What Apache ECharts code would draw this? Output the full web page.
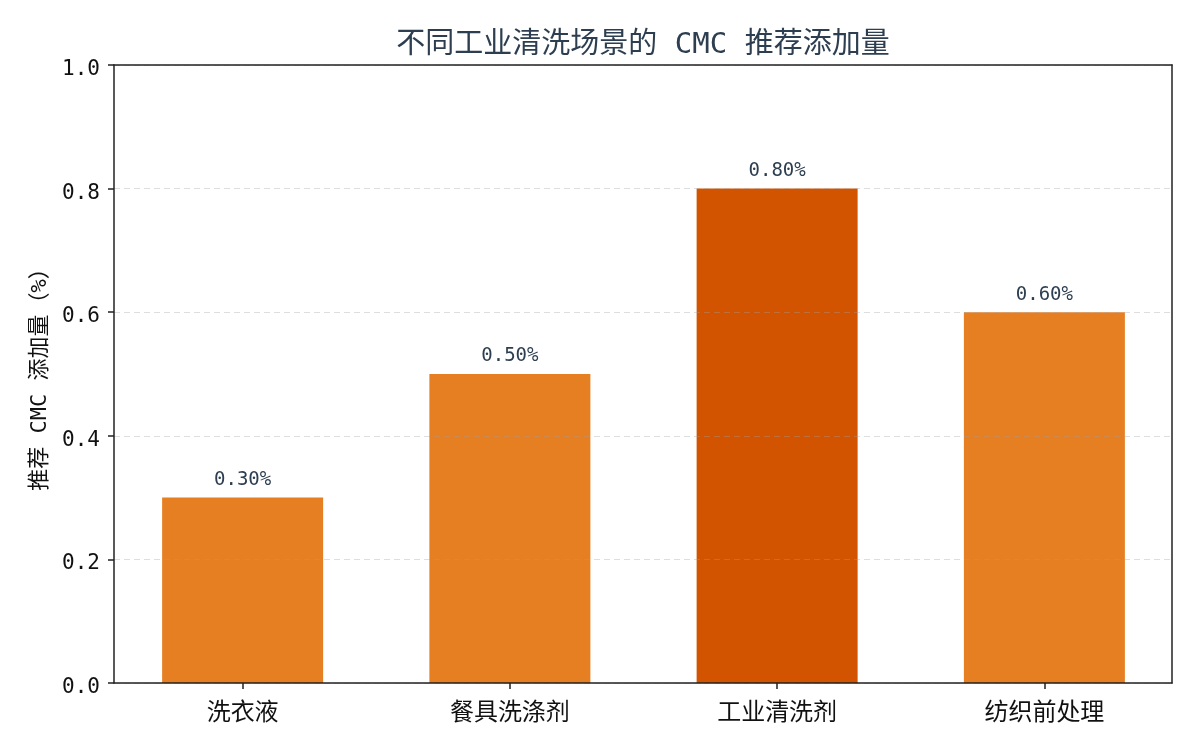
<!DOCTYPE html>
<html>
<head>
<meta charset="utf-8">
<script src="https://cdn.jsdelivr.net/npm/echarts@6/dist/echarts.min.js"></script>
<style>
  html, body { margin: 0; padding: 0; background: #fff; }
  #chart { width: 1200px; height: 750px; }
</style>
</head>
<body>
<div id="chart"></div>
<script>
// 场景与推荐添加量 (%)
var scenes = ['洗衣液', '餐具洗涤剂', '工业清洗剂', '纺织前处理'];
var dosage = [0.30, 0.50, 0.80, 0.60];
var yTicks = [0, 0.2, 0.4, 0.6, 0.8, 1.0];

// 拉丁字符用等宽字体，中文回落到 Noto CJK
var font = "'DejaVu Sans Mono', 'Noto Sans CJK SC', sans-serif";
var maxVal = Math.max.apply(null, dosage);

var chart = echarts.init(document.getElementById('chart'));

// 外框用的轴（只画轴线）
function frameAxis(pos, idx) {
  return {
    type: 'value', gridIndex: idx, position: pos, min: 0, max: 1, z: 5,
    axisLine: { show: true, onZero: false, lineStyle: { color: '#222', width: 1.5 } },
    axisTick: { show: false }, axisLabel: { show: false }, splitLine: { show: false }
  };
}

var option = {
  backgroundColor: '#fff',
  textStyle: { fontFamily: font },
  title: {
    text: '不同工业清洗场景的 CMC 推荐添加量',
    left: 638,
    textAlign: 'center',
    top: 26,
    textStyle: { fontSize: 29, fontWeight: 'normal', color: '#2c3e50', fontFamily: font }
  },
  grid: [
    { left: 114, right: 28, top: 65, bottom: 67 },
    // 柱子所在网格：按 matplotlib 的边距稍微外扩
    { left: 109, right: 22, top: 65, bottom: 67 }
  ],
  xAxis: [
    frameAxis('bottom', 0),
    {
      type: 'category', gridIndex: 1, data: scenes, z: 5,
      axisLine: { show: false },
      axisTick: { show: true, alignWithLabel: true, length: 6, lineStyle: { color: '#222', width: 1.5 } },
      axisLabel: { fontSize: 24, color: '#111', margin: 19, fontFamily: font }
    },
    frameAxis('top', 0)
  ],
  yAxis: [
    {
      type: 'value', gridIndex: 0, min: 0, max: 1, interval: 0.2, z: 3,
      name: '推荐 CMC 添加量（%）',
      nameLocation: 'middle',
      nameGap: 62,
      nameTextStyle: { fontSize: 22, color: '#111', fontFamily: font },
      axisLine: { show: true, onZero: false, lineStyle: { color: '#222', width: 1.5 } },
      axisTick: { show: true, length: 6, lineStyle: { color: '#222', width: 1.5 } },
      axisLabel: {
        margin: 14,
        formatter: function (v) { return '{v|' + v.toFixed(1) + '}'; },
        rich: {
          v: { fontSize: 21, color: '#111', fontFamily: font, padding: [9, 0, 0, 0] }
        }
      },
      splitLine: { show: true, lineStyle: { color: 'rgba(160,160,160,0.35)', type: [6, 4], width: 1 } }
    },
    { type: 'value', gridIndex: 1, min: 0, max: 1, show: false },
    frameAxis('right', 0)
  ],
  series: [{
    type: 'bar',
    xAxisIndex: 1,
    yAxisIndex: 1,
    data: dosage,
    barWidth: 161,
    itemStyle: {
      color: function (p) { return p.value === maxVal ? '#D35400' : '#E67E22'; }
    },
    label: {
      show: true,
      position: 'top',
      distance: 8,
      fontSize: 19,
      color: '#2c3e50',
      fontFamily: font,
      formatter: function (p) { return p.value.toFixed(2) + '%'; }
    }
  }]
};

chart.setOption(option);
</script>
</body>
</html>
